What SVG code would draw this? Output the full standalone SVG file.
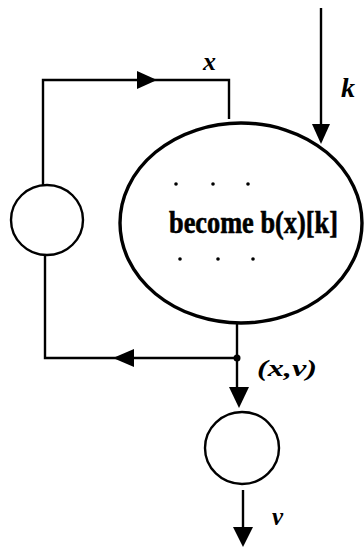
<svg xmlns="http://www.w3.org/2000/svg" width="364" height="549" viewBox="0 0 364 549">
<style>
.ln{fill:none;stroke:#000;stroke-width:2.4}
.nd{fill:#fff;stroke:#000;stroke-width:2.4}
.lbl{font-family:"Liberation Serif",serif;font-style:italic;font-weight:bold;fill:#000}
.dot{fill:#000}
</style>
<g id="connectors">
<path class="ln" d="M43,185 V80 H229 V119"/>
<path d="M137,71 L157,80 L137,89 Z" fill="#000"/>
<path class="ln" d="M321,8 V128"/>
<path d="M312,124 L330,124 L321,144 Z" fill="#000"/>
<path class="ln" d="M237,322 V388"/>
<circle cx="237" cy="358" r="3.5" fill="#000"/>
<path class="ln" d="M237,358 H45 V254"/>
<path d="M134,349 L113,358 L134,367 Z" fill="#000"/>
<path d="M229,387 L249,387 L239,408 Z" fill="#000"/>
<path class="ln" d="M243,490 V530"/>
<path d="M233,527 L253,527 L243,547 Z" fill="#000"/>
</g>
<g id="node-left">
<ellipse class="nd" cx="47" cy="220" rx="36" ry="35"/>
</g>
<g id="node-main">
<ellipse cx="241" cy="223" rx="121" ry="100" fill="#fff" stroke="#000" stroke-width="3.4"/>
<circle class="dot" cx="176" cy="184" r="1.8"/>
<circle class="dot" cx="213" cy="184" r="1.8"/>
<circle class="dot" cx="248" cy="184" r="1.8"/>
<text transform="translate(169,233) scale(0.85,1)" x="0" y="0" font-family="Liberation Serif, serif" font-weight="bold" font-size="31" stroke="#000" stroke-width="0.6">become b(x)[k]</text>
<circle class="dot" cx="180" cy="259" r="1.8"/>
<circle class="dot" cx="218" cy="259" r="1.8"/>
<circle class="dot" cx="253" cy="259" r="1.8"/>
</g>
<g id="node-bottom">
<ellipse class="nd" cx="242" cy="448" rx="37" ry="36"/>
</g>
<g id="labels">
<text class="lbl" x="203" y="70" font-size="26">x</text>
<text class="lbl" x="341" y="97" font-size="28">k</text>
<text class="lbl" x="257" y="376" font-size="23" textLength="60" lengthAdjust="spacingAndGlyphs">(x,v)</text>
<text class="lbl" x="272" y="525" font-size="25">v</text>
</g>
</svg>
